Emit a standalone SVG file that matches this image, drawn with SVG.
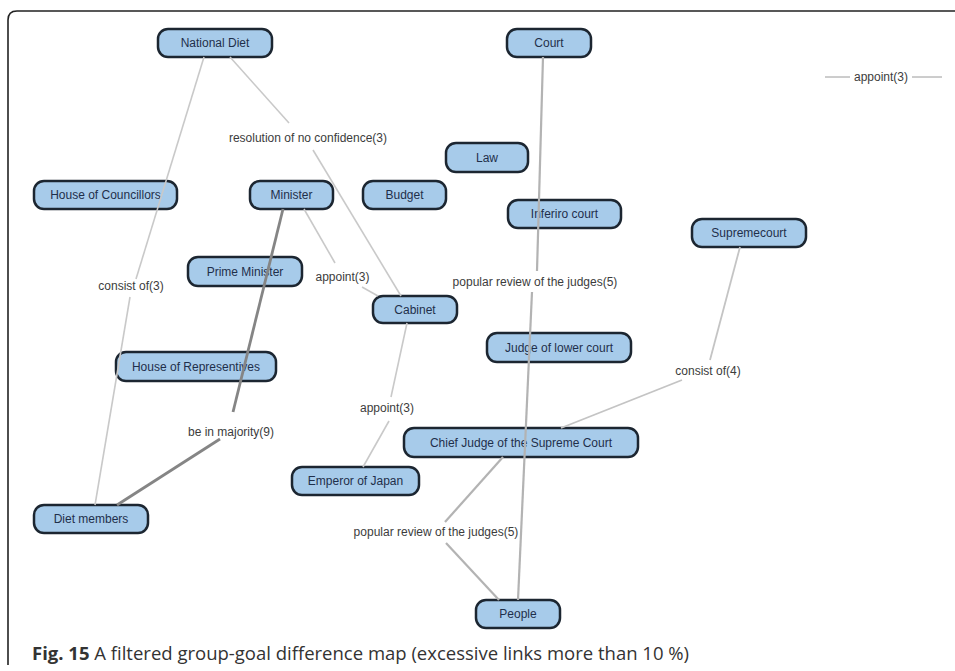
<svg xmlns="http://www.w3.org/2000/svg" width="955" height="671" viewBox="0 0 955 671">
<style>
.node rect{fill:#a7cbea;stroke:#1c2631;stroke-width:2.5}
.node text{font-family:"Liberation Sans",Arial,sans-serif;font-size:12px;fill:#1f2f4a;text-anchor:middle}
.lbl{font-family:"Liberation Sans",Arial,sans-serif;font-size:12px;fill:#3c3c3c;text-anchor:middle}
.w3{stroke:#c9c9c9;stroke-width:1.6;fill:none}
.w4{stroke:#c4c4c4;stroke-width:1.8;fill:none}
.w5{stroke:#b3b3b3;stroke-width:2.2;fill:none}
.w9{stroke:#858585;stroke-width:2.8;fill:none}
.thin{stroke:#9a9a9a;stroke-width:1;fill:none}
.cap{font-family:"Open Sans","Noto Sans",sans-serif;font-size:18.5px;fill:#333}
</style>
<rect width="955" height="671" fill="#fff"/>
<path d="M955 11 H17 Q8 11 8 20 V665" fill="none" stroke="#222" stroke-width="1.6"/>

<g id="national-diet" class="node"><rect x="158" y="29" width="114" height="28" rx="10"/><text x="215" y="47">National Diet</text></g>
<g id="court" class="node"><rect x="507" y="29" width="84" height="28" rx="10"/><text x="549" y="47">Court</text></g>
<g id="law" class="node"><rect x="446" y="143" width="82" height="29" rx="10"/><text x="487" y="161.5">Law</text></g>
<g id="house-of-councillors" class="node"><rect x="34" y="181" width="143" height="28" rx="10"/><text x="105.5" y="199">House of Councillors</text></g>
<g id="minister" class="node"><rect x="250" y="181" width="83" height="28" rx="10"/><text x="291.5" y="199">Minister</text></g>
<g id="budget" class="node"><rect x="363" y="181" width="83" height="28" rx="10"/><text x="404.5" y="199">Budget</text></g>
<g id="inferiro-court" class="node"><rect x="508" y="200" width="113" height="28" rx="10"/><text x="564.5" y="218">Inferiro court</text></g>
<g id="supremecourt" class="node"><rect x="692" y="219" width="114" height="28" rx="10"/><text x="749" y="237">Supremecourt</text></g>
<g id="prime-minister" class="node"><rect x="188" y="257" width="114" height="29" rx="10"/><text x="245" y="275.5">Prime Minister</text></g>
<g id="cabinet" class="node"><rect x="373" y="296" width="84" height="27" rx="10"/><text x="415" y="313.5">Cabinet</text></g>
<g id="house-of-representives" class="node"><rect x="116" y="352" width="160" height="29" rx="10"/><text x="196" y="370.5">House of Representives</text></g>
<g id="judge-of-lower-court" class="node"><rect x="487" y="333" width="144" height="29" rx="10"/><text x="559" y="351.5">Judge of lower court</text></g>
<g id="chief-judge" class="node"><rect x="404" y="428" width="234" height="29" rx="10"/><text x="521" y="446.5">Chief Judge of the Supreme Court</text></g>
<g id="emperor-of-japan" class="node"><rect x="292" y="467" width="127" height="28" rx="10"/><text x="355.5" y="485">Emperor of Japan</text></g>
<g id="diet-members" class="node"><rect x="34" y="505" width="114" height="28" rx="10"/><text x="91" y="523">Diet members</text></g>
<g id="people" class="node"><rect x="476" y="600" width="84" height="28" rx="10"/><text x="518" y="618">People</text></g>

<g id="connectors">
  <line class="w3" x1="204" y1="57" x2="136" y2="279"/>
  <line class="w3" x1="130" y1="297" x2="95" y2="505"/>
  <text class="lbl" x="131" y="290">consist of(3)</text>
  <line class="w3" x1="230" y1="57" x2="289" y2="123"/>
  <line class="w3" x1="313" y1="150" x2="401" y2="296"/>
  <text class="lbl" x="308" y="142">resolution of no confidence(3)</text>
  <line class="w3" x1="304" y1="209" x2="335" y2="263"/>
  <line class="w3" x1="362" y1="287" x2="378" y2="296"/>
  <text class="lbl" x="342.5" y="281">appoint(3)</text>
  <line class="w9" x1="283" y1="209" x2="233" y2="412"/>
  <line class="w9" x1="220" y1="439" x2="117" y2="505"/>
  <text class="lbl" x="231" y="436">be in majority(9)</text>
  <line class="w3" x1="407" y1="323" x2="391" y2="397"/>
  <line class="w3" x1="389" y1="421" x2="363" y2="467"/>
  <text class="lbl" x="387" y="412">appoint(3)</text>
  <line class="w5" x1="543" y1="57" x2="537" y2="271"/>
  <line class="w5" x1="532" y1="292" x2="518" y2="600"/>
  <text class="lbl" x="535" y="286">popular review of the judges(5)</text>
  <line class="w4" x1="740" y1="247" x2="710" y2="360"/>
  <line class="w4" x1="682" y1="380" x2="561" y2="428"/>
  <text class="lbl" x="708" y="375">consist of(4)</text>
  <line class="w5" x1="503" y1="457" x2="445" y2="522"/>
  <line class="w5" x1="446" y1="543" x2="499" y2="600"/>
  <text class="lbl" x="436" y="536">popular review of the judges(5)</text>
  <line class="thin" x1="825" y1="77" x2="850" y2="77"/>
  <line class="thin" x1="912" y1="77" x2="942" y2="77"/>
  <text class="lbl" x="881" y="81">appoint(3)</text>
</g>

<text class="cap" x="32" y="660"><tspan font-weight="bold">Fig. 15</tspan> A filtered group-goal difference map (excessive links more than 10 %)</text>
</svg>
